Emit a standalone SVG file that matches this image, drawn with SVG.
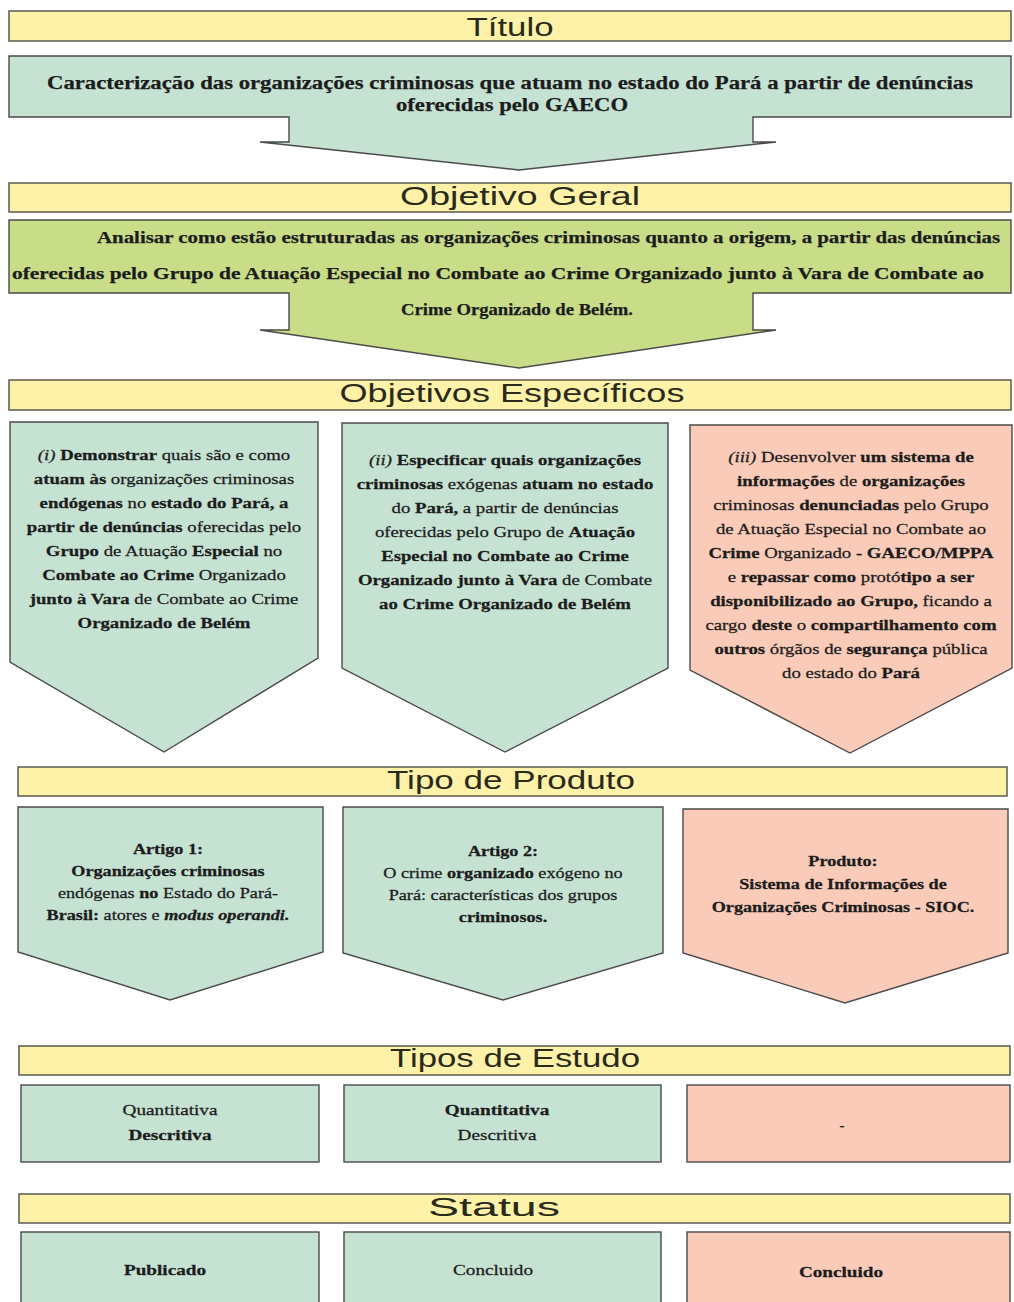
<svg xmlns="http://www.w3.org/2000/svg" width="1014" height="1302" viewBox="0 0 1014 1302">
<style>
.hb{fill:#fdf2a7;stroke:#5a5a50;stroke-width:1.5}
.ht{font-family:"Liberation Sans",Arial,sans-serif;font-size:26px;fill:#2a2a1c;text-anchor:middle}
.g{fill:#c6e2d3;stroke:#4a4a4a;stroke-width:1.4}
.l{fill:#c9dd89;stroke:#4a4a4a;stroke-width:1.4}
.s{fill:#f9cbb8;stroke:#4a4a4a;stroke-width:1.4}
.t{font-family:"Liberation Serif","Times New Roman",serif;fill:#1c1c1c;stroke:#1c1c1c;stroke-width:0.25;text-anchor:middle}
.f15{font-size:15px}
.f14{font-size:14px}
.b{font-weight:700}
.i{font-style:italic}
</style>
<rect width="1014" height="1302" fill="#ffffff"/>

<g id="h-titulo"><rect class="hb" x="9" y="11" width="1002" height="30"/><text class="ht" x="510" y="36" textLength="87" lengthAdjust="spacingAndGlyphs">Título</text></g>

<g id="n-titulo">
<polygon class="g" points="9,56 1011,56 1011,117 753,117 753,142 776,142 519,170 260,142 289,142 289,117 9,117"/>
<text class="t b" x="510" y="89" font-size="18" textLength="926" lengthAdjust="spacingAndGlyphs">Caracterização das organizações criminosas que atuam no estado do Pará a partir de denúncias</text>
<text class="t b" x="512" y="111" font-size="18" textLength="232" lengthAdjust="spacingAndGlyphs">oferecidas pelo GAECO</text>
</g>

<g id="h-objgeral"><rect class="hb" x="9" y="183" width="1002" height="29"/><text class="ht" x="520" y="205" textLength="240" lengthAdjust="spacingAndGlyphs">Objetivo Geral</text></g>

<g id="n-objgeral">
<polygon class="l" points="9,220 1011,220 1011,293 753,293 753,330 776,330 519,368 260,330 289,330 289,293 9,293"/>
<text class="t b" x="97" y="243" font-size="17" style="text-anchor:start" textLength="903" lengthAdjust="spacingAndGlyphs">Analisar como estão estruturadas as organizações criminosas quanto a origem, a partir das denúncias</text>
<text class="t b" x="12" y="279" font-size="17" style="text-anchor:start" textLength="972" lengthAdjust="spacingAndGlyphs">oferecidas pelo Grupo de Atuação Especial no Combate ao Crime Organizado junto à Vara de Combate ao</text>
<text class="t b" x="517" y="315" font-size="17" textLength="232" lengthAdjust="spacingAndGlyphs">Crime Organizado de Belém.</text>
</g>

<g id="h-objesp"><rect class="hb" x="9" y="380" width="1002" height="30"/><text class="ht" x="512" y="402" textLength="345" lengthAdjust="spacingAndGlyphs">Objetivos Específicos</text></g>

<g id="n-esp1">
<polygon class="g" points="10,422 318,422 318,658 164,752 10,662"/>
<g class="t f15" transform="translate(164,0) scale(1.25,1)">
<text y="460"><tspan class="i">(i)</tspan><tspan class="b"> Demonstrar</tspan><tspan> quais são e como</tspan></text>
<text y="484"><tspan class="b">atuam às</tspan><tspan> organizações criminosas</tspan></text>
<text y="508"><tspan class="b">endógenas</tspan><tspan> no </tspan><tspan class="b">estado do Pará, a</tspan></text>
<text y="532"><tspan class="b">partir de denúncias</tspan><tspan> oferecidas pelo</tspan></text>
<text y="556"><tspan class="b">Grupo</tspan><tspan> de Atuação </tspan><tspan class="b">Especial</tspan><tspan> no</tspan></text>
<text y="580"><tspan class="b">Combate ao Crime</tspan><tspan> Organizado</tspan></text>
<text y="604"><tspan class="b">junto à Vara</tspan><tspan> de Combate ao Crime</tspan></text>
<text y="628" class="b">Organizado de Belém</text>
</g>
</g>

<g id="n-esp2">
<polygon class="g" points="342,423 668,423 668,668 505,752 342,668"/>
<g class="t f15" transform="translate(505,0) scale(1.25,1)">
<text y="465"><tspan class="i">(ii)</tspan><tspan class="b"> Especificar quais organizações</tspan></text>
<text y="489"><tspan class="b">criminosas</tspan><tspan> exógenas </tspan><tspan class="b">atuam no estado</tspan></text>
<text y="513"><tspan>do </tspan><tspan class="b">Pará,</tspan><tspan> a partir de denúncias</tspan></text>
<text y="537"><tspan>oferecidas pelo Grupo de </tspan><tspan class="b">Atuação</tspan></text>
<text y="561" class="b">Especial no Combate ao Crime</text>
<text y="585"><tspan class="b">Organizado junto à Vara</tspan><tspan> de Combate</tspan></text>
<text y="609" class="b">ao Crime Organizado de Belém</text>
</g>
</g>

<g id="n-esp3">
<polygon class="s" points="690,425 1012,425 1012,668 850,753 690,670"/>
<g class="t f15" transform="translate(851,0) scale(1.25,1)">
<text y="462"><tspan class="i">(iii)</tspan><tspan> Desenvolver </tspan><tspan class="b">um sistema de</tspan></text>
<text y="486"><tspan class="b">informações</tspan><tspan> de </tspan><tspan class="b">organizações</tspan></text>
<text y="510"><tspan>criminosas </tspan><tspan class="b">denunciadas</tspan><tspan> pelo Grupo</tspan></text>
<text y="534">de Atuação Especial no Combate ao</text>
<text y="558"><tspan class="b">Crime</tspan><tspan> Organizado </tspan><tspan class="b">- GAECO/MPPA</tspan></text>
<text y="582"><tspan>e </tspan><tspan class="b">repassar como</tspan><tspan> protó</tspan><tspan class="b">tipo a ser</tspan></text>
<text y="606"><tspan class="b">disponibilizado ao Grupo,</tspan><tspan> ficando a</tspan></text>
<text y="630"><tspan>cargo </tspan><tspan class="b">deste</tspan><tspan> o </tspan><tspan class="b">compartilhamento com</tspan></text>
<text y="654"><tspan class="b">outros</tspan><tspan> órgãos de </tspan><tspan class="b">segurança</tspan><tspan> pública</tspan></text>
<text y="678"><tspan>do estado do </tspan><tspan class="b">Pará</tspan></text>
</g>
</g>

<g id="h-produto"><rect class="hb" x="18" y="767" width="989" height="29"/><text class="ht" x="511" y="789" textLength="248" lengthAdjust="spacingAndGlyphs">Tipo de Produto</text></g>

<g id="n-prod1">
<polygon class="g" points="18,807 323,807 323,952 170,1000 18,952"/>
<g class="t f14" transform="translate(168,0) scale(1.3,1)">
<text y="854" class="b">Artigo 1:</text>
<text y="876" class="b">Organizações criminosas</text>
<text y="898"><tspan>endógenas </tspan><tspan class="b">no</tspan><tspan> Estado do Pará-</tspan></text>
<text y="920"><tspan class="b">Brasil:</tspan><tspan> atores e </tspan><tspan class="b i">modus operandi.</tspan></text>
</g>
</g>

<g id="n-prod2">
<polygon class="g" points="343,807 663,807 663,953 503,1000 343,953"/>
<g class="t f14" transform="translate(503,0) scale(1.3,1)">
<text y="856" class="b">Artigo 2:</text>
<text y="878"><tspan>O crime </tspan><tspan class="b">organizado</tspan><tspan> exógeno no</tspan></text>
<text y="900">Pará: características dos grupos</text>
<text y="922" class="b">criminosos.</text>
</g>
</g>

<g id="n-prod3">
<polygon class="s" points="683,809 1008,809 1008,953 845,1003 683,953"/>
<g class="t f14 b" transform="translate(843,0) scale(1.3,1)">
<text y="866">Produto:</text>
<text y="889">Sistema de Informações de</text>
<text y="912">Organizações Criminosas - SIOC.</text>
</g>
</g>

<g id="h-estudo"><rect class="hb" x="19" y="1046" width="991" height="29"/><text class="ht" x="515" y="1067" textLength="250" lengthAdjust="spacingAndGlyphs">Tipos de Estudo</text></g>

<g id="n-est1">
<rect class="g" x="21" y="1085" width="298" height="77"/>
<g class="t f15" transform="translate(170,0) scale(1.28,1)">
<text y="1115">Quantitativa</text>
<text y="1140" class="b">Descritiva</text>
</g>
</g>
<g id="n-est2">
<rect class="g" x="344" y="1085" width="317" height="77"/>
<g class="t f15" transform="translate(497,0) scale(1.28,1)">
<text y="1115" class="b">Quantitativa</text>
<text y="1140">Descritiva</text>
</g>
</g>
<g id="n-est3">
<rect class="s" x="687" y="1085" width="323" height="77"/>
<text class="t f15" x="842" y="1130">-</text>
</g>

<g id="h-status"><rect class="hb" x="19" y="1194" width="991" height="29"/><text class="ht" x="494" y="1216" textLength="132" lengthAdjust="spacingAndGlyphs">Status</text></g>

<g id="n-st1">
<rect class="g" x="21" y="1232" width="298" height="80"/>
<g class="t f15 b" transform="translate(165,0) scale(1.28,1)"><text y="1275">Publicado</text></g>
</g>
<g id="n-st2">
<rect class="g" x="344" y="1232" width="317" height="80"/>
<g class="t f15" transform="translate(493,0) scale(1.28,1)"><text y="1275">Concluido</text></g>
</g>
<g id="n-st3">
<rect class="s" x="687" y="1232" width="323" height="80"/>
<g class="t f15 b" transform="translate(841,0) scale(1.28,1)"><text y="1277">Concluido</text></g>
</g>
</svg>
